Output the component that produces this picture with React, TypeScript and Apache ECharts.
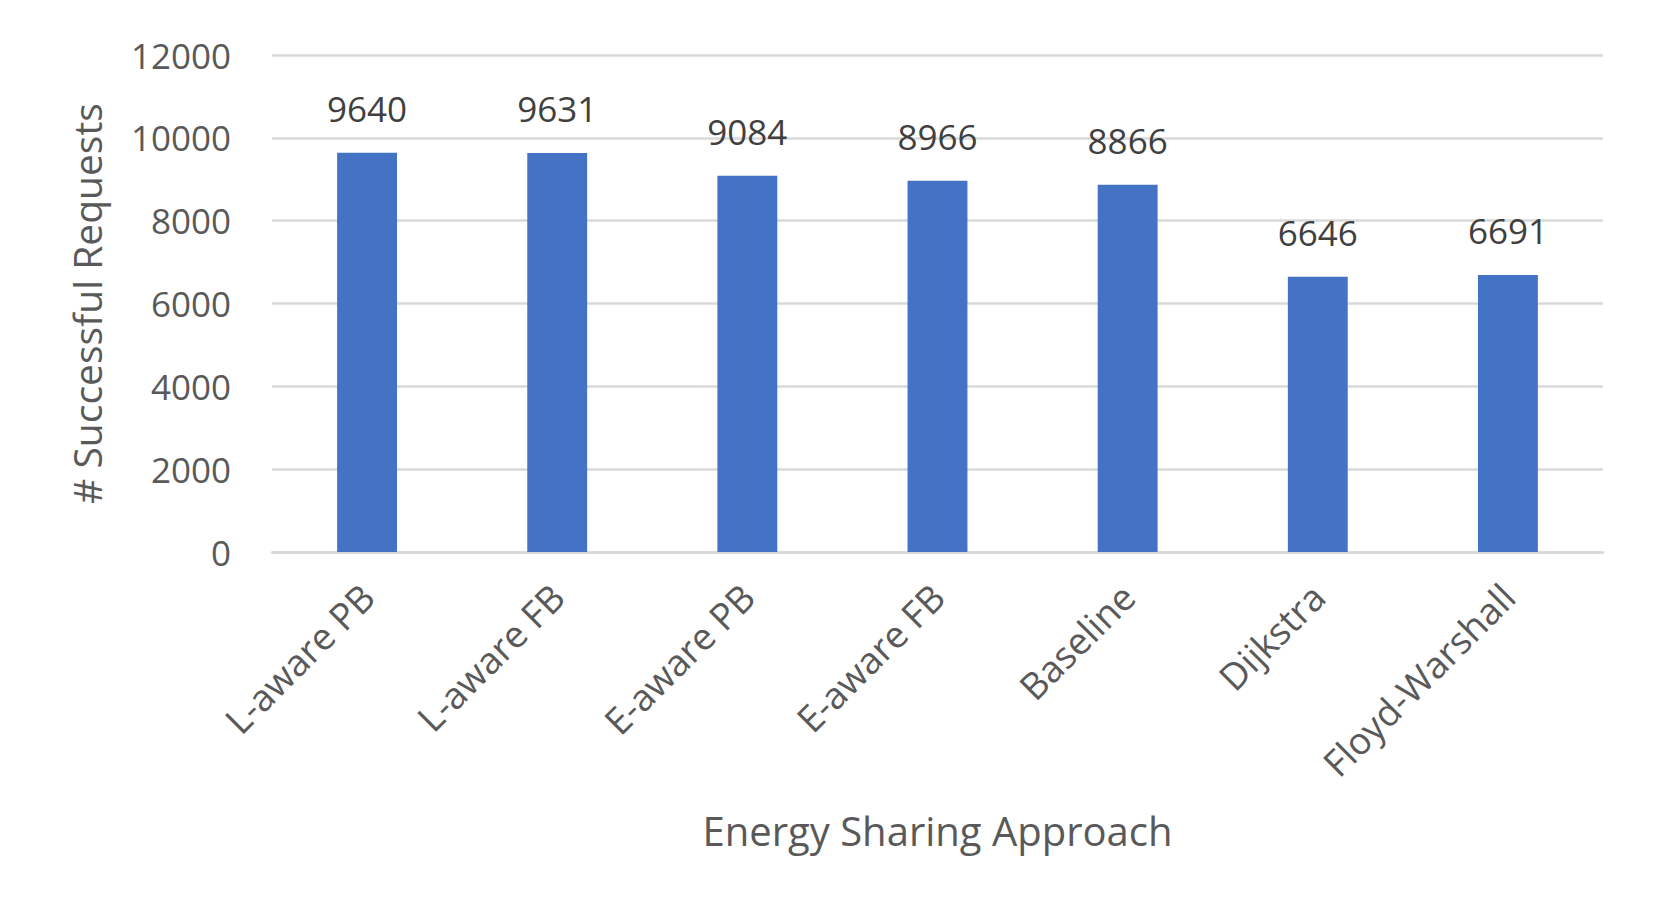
import React, { useEffect, useRef } from "react";
import * as echarts from "echarts";

const categories = [
  "L-aware PB",
  "L-aware FB",
  "E-aware PB",
  "E-aware FB",
  "Baseline",
  "Dijkstra",
  "Floyd-Warshall",
];
const successfulRequests = [9640, 9631, 9084, 8966, 8866, 6646, 6691];
const yTicks = [0, 2000, 4000, 6000, 8000, 10000, 12000];

const FONT = "'Open Sans', 'Noto Sans', sans-serif";

export default function App() {
  const ref = useRef<HTMLDivElement>(null);
  useEffect(() => {
    if (!ref.current) return;
    const chart = echarts.init(ref.current, undefined, { renderer: "svg" });
    chart.setOption({
      animation: false,
      backgroundColor: "#ffffff",
      textStyle: { fontFamily: FONT },
      grid: { left: 272, right: 56, top: 55, bottom: 369, containLabel: false },
      xAxis: {
        type: "category",
        data: categories,
        name: "Energy Sharing Approach",
        nameLocation: "middle",
        nameGap: 258,
        nameTextStyle: { fontSize: 40, color: "#595959", fontFamily: FONT },
        axisLine: { show: true, lineStyle: { color: "#D9D9D9", width: 2.5 } },
        axisTick: { show: false },
        axisLabel: {
          rotate: 45,
          interval: 0,
          margin: 38,
          fontSize: 37,
          color: "#595959",
          fontFamily: FONT,
        },
      },
      yAxis: {
        type: "value",
        min: yTicks[0],
        max: yTicks[yTicks.length - 1],
        interval: 2000,
        name: "# Successful Requests",
        nameLocation: "middle",
        nameGap: 166,
        nameTextStyle: { fontSize: 39, color: "#595959", fontFamily: FONT },
        axisLine: { show: false },
        axisTick: { show: false },
        splitLine: { show: true, lineStyle: { color: "#D9D9D9", width: 2.5 } },
        axisLabel: {
          margin: 41,
          fontSize: 35,
          color: "#595959",
          fontFamily: FONT,
          formatter: (v: number) => String(v),
        },
      },
      series: [
        {
          type: "bar",
          data: successfulRequests,
          barWidth: "31.5%",
          itemStyle: { color: "#4472C4" },
          label: {
            show: true,
            position: "top",
            distance: 27,
            fontSize: 35,
            color: "#404040",
            fontFamily: FONT,
          },
        },
      ],
    });
    return () => chart.dispose();
  }, []);
  return (
    <div
      ref={ref}
      style={{ position: "absolute", left: 0, top: 0, width: 1659, height: 921 }}
    />
  );
}
